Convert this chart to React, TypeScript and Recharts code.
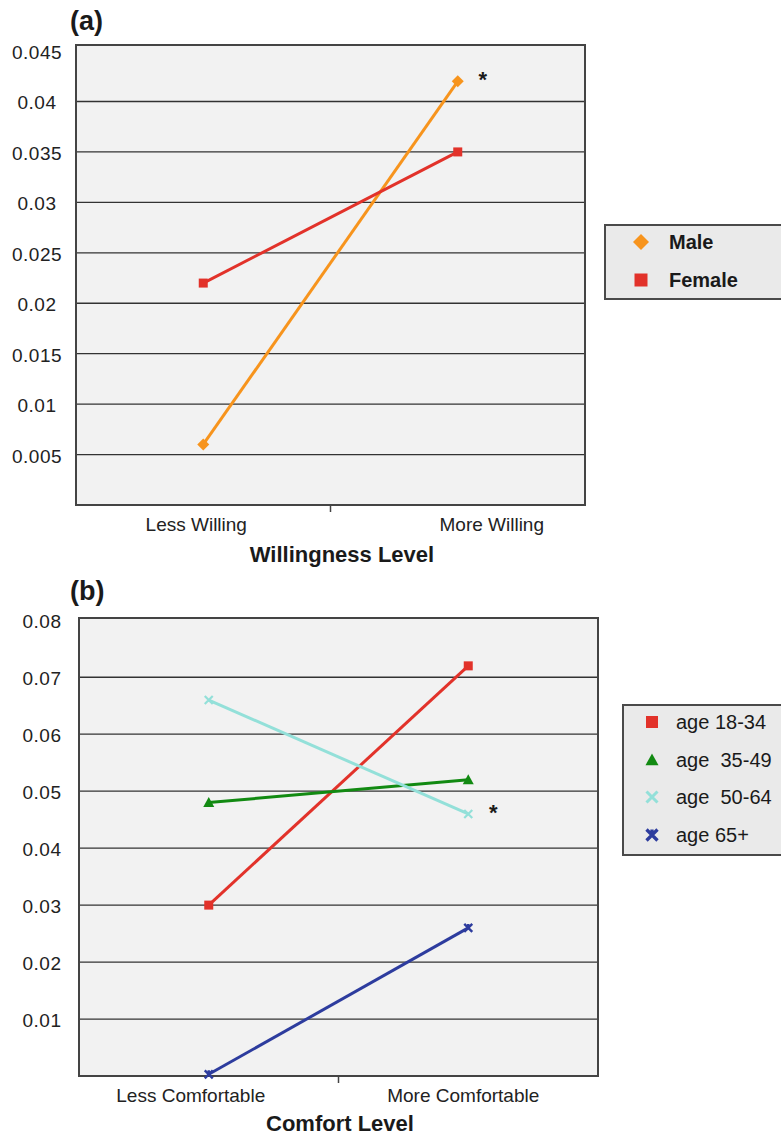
import React from 'react';
import { LineChart, Line, XAxis, YAxis, CartesianGrid, ReferenceArea, Legend } from 'recharts';

const FONT = '"Liberation Sans", Arial, Helvetica, sans-serif';

// panel (a)
const willingLevels = ['Less Willing', 'More Willing'];
const maleValues = [0.006, 0.042];
const femaleValues = [0.022, 0.035];
const ticksA = [0.005, 0.01, 0.015, 0.02, 0.025, 0.03, 0.035, 0.04, 0.045];

// panel (b)
const comfortLevels = ['Less Comfortable', 'More Comfortable'];
const age1834 = [0.03, 0.072];
const age3549 = [0.048, 0.052];
const age5064 = [0.066, 0.046];
const age65 = [0.0003, 0.026];
const ticksB = [0.01, 0.02, 0.03, 0.04, 0.05, 0.06, 0.07, 0.08];

type Shape = 'diamond' | 'square' | 'triangle' | 'cross' | 'star';

interface Series {
  key: string
  name: string
  color: string
  shape: Shape
  star?: number
}

const seriesA: Series[] = [
  { key: 'male', name: 'Male', color: '#F7941D', shape: 'diamond', star: 1 },
  { key: 'female', name: 'Female', color: '#E2322A', shape: 'square' },
];

const seriesB: Series[] = [
  { key: 'a1834', name: 'age 18-34', color: '#E2322A', shape: 'square' },
  { key: 'a3549', name: 'age  35-49', color: '#128A12', shape: 'triangle' },
  { key: 'a5064', name: 'age  50-64', color: '#93E0D9', shape: 'cross', star: 1 },
  { key: 'a65', name: 'age 65+', color: '#2D3C9E', shape: 'star' },
];

const dataA = willingLevels.map((level, i) => ({ level, male: maleValues[i], female: femaleValues[i] }));
const dataB = comfortLevels.map((level, i) => ({
  level, a1834: age1834[i], a3549: age3549[i], a5064: age5064[i], a65: age65[i],
}));

function Marker({ shape, cx, cy, color, s }: { shape: Shape; cx: number; cy: number; color: string; s: number }) {
  switch (shape) {
    case 'diamond':
      return <polygon points={`${cx},${cy - s} ${cx + s},${cy} ${cx},${cy + s} ${cx - s},${cy}`} fill={color} />;
    case 'square':
      return <rect x={cx - s} y={cy - s} width={s * 2} height={s * 2} fill={color} />;
    case 'triangle':
      return <polygon points={`${cx},${cy - s} ${cx + s},${cy + s * 0.8} ${cx - s},${cy + s * 0.8}`} fill={color} />;
    case 'cross':
      return (
        <path d={`M${cx - s},${cy - s}L${cx + s},${cy + s}M${cx + s},${cy - s}L${cx - s},${cy + s}`}
          stroke={color} strokeWidth={s * 0.55} fill="none" />
      );
    case 'star':
      return (
        <path d={`M${cx - s},${cy - s}L${cx + s},${cy + s}M${cx + s},${cy - s}L${cx - s},${cy + s}M${cx},${cy - s}L${cx},${cy + s * 0.2}`}
          stroke={color} strokeWidth={s * 0.6} fill="none" />
      );
  }
  return null;
}

const markerSize: Record<Shape, number> = { diamond: 6, square: 4.5, triangle: 5.5, cross: 4, star: 4 };

function LegendBox({ series, left, width, height, markerX, textX, firstY, step, bold, legendMarker }: {
  series: Series[]; left: number; width: number; height: number; markerX: number; textX: number
  firstY: number; step: number; bold: boolean; legendMarker: Record<Shape, number>
}) {
  return (
    <div style={{
      position: 'relative', marginLeft: left, width, height, boxSizing: 'border-box',
      background: '#EAEAEA', border: '2px solid #4a4a4a', fontFamily: FONT,
    }}>
      {series.map((s, i) => {
        const cy = firstY - 2 + step * i;
        return (
          <div key={s.key} style={{ position: 'absolute', left: 0, top: cy - 14, height: 28, width: width }}>
            <svg width={30} height={28} style={{ position: 'absolute', left: markerX - 2 - 15, top: 0 }}>
              <Marker shape={s.shape} cx={15} cy={14} color={s.color} s={legendMarker[s.shape]} />
            </svg>
            <span style={{
              position: 'absolute', left: textX - 2, top: 0, lineHeight: '28px', fontSize: 20,
              fontWeight: bold ? 'bold' : 'normal', color: '#1a1a1a', whiteSpace: 'pre',
            }}>{s.name}</span>
          </div>
        );
      })}
    </div>
  );
}

function yTick(cx: number) {
  return (props: any) => (
    <text x={cx} y={props.y} dy={8} textAnchor="middle" fontSize={19} letterSpacing={0.5}
      fontFamily={FONT} fill="#222">{props.payload.value}</text>
  );
}

// category labels, plus the single tick mark between the two categories
function xTick(shift: number[], base: number) {
  return (props: any) => {
    const half = props.payload.offset ?? 0;
    return (
      <g>
        {props.index === 0 && (
          <line x1={props.x + half} x2={props.x + half} y1={base} y2={base + 7} stroke="#444" strokeWidth={1.5} />
        )}
        <text x={props.x + shift[props.index]} y={base} dy={26} textAnchor="middle" fontSize={19}
          fontFamily={FONT} fill="#222">{props.payload.value}</text>
      </g>
    );
  };
}

function axisTitle(text: string, cx: number, y: number) {
  return () => (
    <text x={cx} y={y} textAnchor="middle" fontSize={22}
      fontWeight="bold" fontFamily={FONT} fill="#1a1a1a">{text}</text>
  );
}

function starLabel(idx?: number) {
  return (props: any) => {
    if (idx === undefined || props.index !== idx) return <g key={`n${props.index}`} />;
    return (
      <text key={`s${props.index}`} x={props.x + 25} y={props.y + 6} textAnchor="middle" fontSize={22}
        fontWeight="bold" fontFamily={FONT} fill="#1a1a1a">*</text>
    );
  };
}

function renderLines(series: Series[]) {
  return series.map((s) => (
    <Line
      key={s.key}
      dataKey={s.key}
      name={s.name}
      stroke={s.color}
      strokeWidth={3}
      isAnimationActive={false}
      dot={(p: any) => <Marker key={`${s.key}${p.index}`} shape={s.shape} cx={p.cx} cy={p.cy} color={s.color} s={markerSize[s.shape]} />}
      activeDot={false}
      label={starLabel(s.star)}
    />
  ));
}

function PanelLabel({ text, top }: { text: string; top: number }) {
  return (
    <div style={{
      position: 'absolute', left: 70, top, fontFamily: FONT, fontWeight: 'bold', fontSize: 27,
      lineHeight: '27px', color: '#1a1a1a',
    }}>{text}</div>
  );
}

export default function App() {
  const topA = 0.0456;
  const topB = 0.0804;
  return (
    <div style={{ position: 'absolute', left: 0, top: 0, width: 781, height: 1138, overflow: 'hidden', background: '#fff' }}>
      <div style={{ position: 'absolute', left: 0, top: 0 }}>
        <LineChart width={781} height={585} data={dataA} margin={{ top: 45, right: 196, bottom: 0, left: 0 }}>
          <CartesianGrid vertical={false} fill="#F2F2F2" fillOpacity={1} stroke="#333" strokeWidth={1.3}
            horizontalValues={ticksA.slice(0, -1)} />
          <XAxis dataKey="level" scale="band" height={80} axisLine={false} tickLine={false} tickSize={0} tickMargin={0}
            tick={xTick([-7, 34], 505)} label={axisTitle('Willingness Level', 342, 562)} />
          <YAxis domain={[0, topA]} ticks={ticksA} width={76} axisLine={false} tickLine={false} tick={yTick(37)} />
          <ReferenceArea y1={0} y2={topA} fill="none" stroke="#444" strokeWidth={2} />
          {renderLines(seriesA)}
          <Legend layout="vertical" align="center" verticalAlign="middle"
            wrapperStyle={{ left: 0, top: 224, width: 800 }}
            content={() => (
              <LegendBox series={seriesA} left={604} width={200} height={76} markerX={37} textX={65}
                firstY={18} step={38} bold legendMarker={{ diamond: 8, square: 6.5, triangle: 6, cross: 6, star: 6 }} />
            )} />
        </LineChart>
      </div>
      <PanelLabel text="(a)" top={8} />

      <div style={{ position: 'absolute', left: 0, top: 580 }}>
        <LineChart width={781} height={558} data={dataB} margin={{ top: 38, right: 183, bottom: 0, left: 0 }}>
          <CartesianGrid vertical={false} fill="#F2F2F2" fillOpacity={1} stroke="#333" strokeWidth={1.3}
            horizontalValues={ticksB.slice(0, -1)} />
          <XAxis dataKey="level" scale="band" height={62} axisLine={false} tickLine={false} tickSize={0} tickMargin={0}
            tick={xTick([-18, -5], 496)} label={axisTitle('Comfort Level', 340, 551)} />
          <YAxis domain={[0, topB]} ticks={ticksB} width={79} axisLine={false} tickLine={false} tick={yTick(42)} />
          <ReferenceArea y1={0} y2={topB} fill="none" stroke="#444" strokeWidth={2} />
          {renderLines(seriesB)}
          <Legend layout="vertical" align="center" verticalAlign="middle"
            wrapperStyle={{ left: 0, top: 124, width: 800 }}
            content={() => (
              <LegendBox series={seriesB} left={622} width={180} height={152} markerX={30} textX={54}
                firstY={18} step={37.7} bold={false}
                legendMarker={{ diamond: 7, square: 6, triangle: 6.5, cross: 5.5, star: 5.5 }} />
            )} />
        </LineChart>
      </div>
      <PanelLabel text="(b)" top={578} />
    </div>
  );
}
